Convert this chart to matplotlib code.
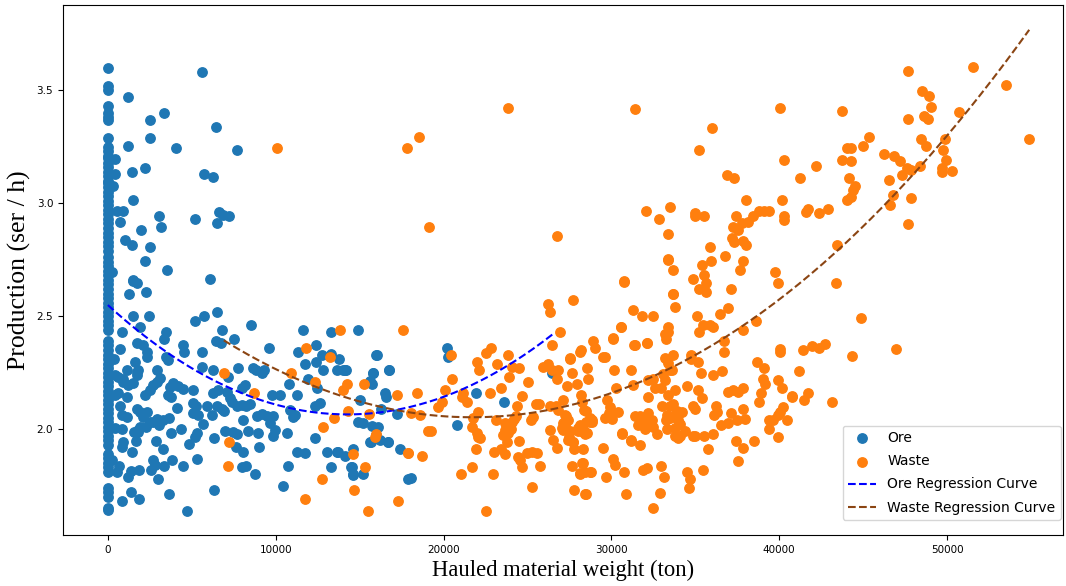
import numpy as np
import matplotlib.pyplot as plt

# Production vs hauled material weight (ore / waste) with quadratic regression curves

# ore trips hauled with zero waste weight (x = 0)
ore_zero_y = [3.60, 3.52, 3.50, 3.43, 3.40, 3.38, 3.37, 3.29, 3.25, 3.23, 3.21, 3.20, 3.18,
              3.16, 3.14, 3.12, 3.10, 3.09, 3.07, 3.05, 3.03, 3.01, 2.99, 2.97, 2.95, 2.93,
              2.91, 2.89, 2.87, 2.85, 2.83, 2.81, 2.79, 2.76, 2.74, 2.72, 2.70, 2.68, 2.66,
              2.64, 2.62, 2.60, 2.58, 2.56, 2.54, 2.52, 2.50, 2.48, 2.46, 2.44, 2.39, 2.37,
              2.35, 2.33, 2.31, 2.29, 2.27, 2.25, 2.23, 2.21, 2.19, 2.17, 2.15, 2.13, 2.11,
              2.09, 2.07, 2.05, 2.03, 2.01, 1.99, 1.97, 1.95, 1.93, 1.89, 1.87, 1.85, 1.83,
              1.81, 1.74, 1.72, 1.70, 1.65, 1.64]

ore_pts = [
    (1210, 3.47), (5620, 3.58), (3360, 3.40), (2500, 3.37), (6440, 3.335), (2500, 3.29),
    (1170, 3.255), (4050, 3.245), (7710, 3.235), (420, 3.195), (1410, 3.14), (2200, 3.155),
    (420, 3.127), (320, 3.077), (5720, 3.127), (6260, 3.114), (1470, 3.013), (520, 2.965),
    (910, 2.965), (720, 2.916), (3060, 2.944), (3140, 2.895), (1970, 2.883), (5200, 2.932),
    (6600, 2.96), (6870, 2.947), (7230, 2.944), (6500, 2.913), (1050, 2.836), (1410, 2.814),
    (2540, 2.807), (2200, 2.745), (3520, 2.704), (220, 2.696), (1500, 2.66), (6080, 2.665),
    (1470, 2.656), (1750, 2.647), (1250, 2.60), (2300, 2.607), (1510, 2.50), (2460, 2.50),
    (5220, 2.478), (5720, 2.50), (6530, 2.519), (8520, 2.46), (6830, 2.438), (7510, 2.40),
    (6470, 2.39), (6730, 2.38), (820, 2.43), (1910, 2.453), (3460, 2.43), (3340, 2.40),
    (1710, 2.38), (2100, 2.37), (720, 2.353), (2340, 2.342), (2340, 2.32), (4490, 2.372),
    (4530, 2.342), (5580, 2.342), (3460, 2.32), (3600, 2.305), (340, 2.31), (1610, 2.298),
    (1110, 2.261), (1810, 2.261), (2900, 2.261), (5580, 2.273), (6240, 2.261), (7170, 2.229),
    (7730, 2.271), (8620, 2.27), (8850, 2.263), (9160, 2.25), (9300, 2.26), (9610, 2.36),
    (11640, 2.438), (13290, 2.43), (14920, 2.438), (12400, 2.37), (11300, 2.34), (12730, 2.327),
    (13290, 2.332), (13780, 2.31), (16000, 2.327), (11740, 2.29), (12400, 2.298), (12830, 2.261),
    (13680, 2.261), (14120, 2.261), (15800, 2.25), (16750, 2.261), (11940, 2.221), (12440, 2.18),
    (15600, 2.207), (16500, 2.158), (16600, 2.143), (7970, 2.18), (8180, 2.195), (7070, 2.165),
    (7270, 2.136), (7370, 2.12), (6280, 2.158), (6570, 2.173), (6810, 2.09), (6910, 2.08),
    (7670, 2.10), (7970, 2.105), (8260, 2.10), (8460, 2.11), (9790, 2.15), (10250, 2.15),
    (11240, 2.15), (12340, 2.10), (12630, 2.114), (15020, 2.128), (10800, 2.198), (10850, 2.084),
    (11140, 2.062), (11040, 2.054), (14920, 2.03), (15220, 2.025), (15710, 2.015), (16110, 2.01),
    (15600, 1.944), (16200, 1.951), (16700, 1.944), (17400, 1.91), (12340, 1.962), (10650, 1.981),
    (11240, 1.90), (11740, 1.892), (13030, 1.90), (13680, 1.90), (14120, 1.88), (14520, 1.833),
    (14620, 1.796), (15220, 1.80), (13270, 1.83), (10710, 1.836), (10410, 1.748), (17900, 1.78),
    (6970, 1.99), (7470, 1.988), (7670, 1.98), (7630, 1.919), (8070, 1.897), (8000, 1.83),
    (8260, 1.838), (8760, 1.80), (8320, 1.99), (8960, 1.981), (9000, 1.919), (9850, 1.97),
    (9950, 1.996), (8900, 2.06), (9170, 2.065), (9470, 2.06), (9850, 2.058), (9650, 2.025),
    (8040, 2.04), (6300, 1.959), (6300, 1.73), (4690, 1.639), (3640, 1.711), (1850, 1.689),
    (1370, 1.72), (850, 1.68), (5320, 1.867), (4450, 1.838), (3830, 1.863), (3360, 1.836),
    (3000, 1.779), (2660, 1.863), (2800, 1.841), (2560, 1.82), (1850, 1.82), (1370, 1.816),
    (1210, 1.79), (670, 1.836), (520, 1.81), (220, 1.863), (1410, 1.897), (820, 1.919),
    (910, 1.944), (1670, 1.948), (1810, 1.985), (2840, 1.948), (3260, 1.91), (4850, 1.932),
    (5220, 1.966), (5340, 1.981), (4350, 1.999), (3740, 1.981), (5640, 2.021), (5090, 2.07),
    (5380, 2.062), (5880, 2.10), (5090, 2.114), (5280, 2.10), (6180, 2.062), (6480, 2.10),
    (4090, 2.095), (3650, 2.047), (3300, 2.04), (2900, 2.044), (2500, 2.032), (2340, 2.077),
    (1710, 2.09), (1910, 2.077), (2100, 2.054), (720, 2.10), (820, 2.062), (1110, 2.054),
    (1110, 2.143), (420, 2.003), (820, 1.999), (1570, 1.988), (1810, 1.996), (1910, 2.01),
    (2260, 2.01), (2660, 2.03), (3060, 2.02), (2200, 2.15), (2500, 2.173), (2700, 2.195),
    (2900, 2.209), (3100, 2.224), (910, 2.209), (1210, 2.195), (1510, 2.202), (1710, 2.253),
    (1750, 2.239), (420, 2.24), (600, 2.23), (900, 2.22), (600, 2.16), (420, 2.15),
    (3690, 2.187), (3890, 2.202), (4190, 2.19), (4490, 2.176), (3590, 2.15), (3790, 2.143),
    (5090, 2.173), (20180, 2.36), (20280, 2.32), (26480, 2.246), (21910, 2.158), (23600, 2.12),
    (16050, 2.327), (15810, 2.249), (15610, 2.214), (15710, 2.198), (16770, 2.261), (13990, 2.261),
    (14180, 2.261), (16270, 2.09), (17240, 2.066), (20780, 2.018), (16000, 1.973), (16700, 1.941),
    (15650, 1.941), (13730, 1.90), (14580, 1.91), (14460, 1.83), (14580, 1.80), (18090, 1.782),
]

waste_pts = [
    (10090, 3.245), (17840, 3.242), (18550, 3.293), (19150, 2.895), (23860, 3.423), (26740, 2.855),
    (13830, 2.438), (17600, 2.438), (11800, 2.36), (13230, 2.32), (6910, 2.246), (10900, 2.25),
    (12340, 2.209), (14220, 2.199), (14020, 2.173), (15260, 2.198), (17200, 2.15), (8720, 2.158),
    (15570, 2.066), (14280, 2.081), (16000, 1.98), (15900, 1.966), (17860, 1.892), (12830, 2.01),
    (13490, 2.047), (14620, 1.889), (15320, 1.83), (12730, 1.779), (14680, 1.73), (11740, 1.689),
    (15510, 1.639), (17300, 1.68), (7230, 1.941), (7170, 1.838),
    (20440, 2.327), (26200, 2.552), (26340, 2.519), (27730, 2.571), (26940, 2.428), (26440, 2.372),
    (25940, 2.273), (26240, 2.29), (26440, 2.261), (26840, 2.261), (26740, 2.22), (21970, 2.298),
    (22130, 2.261), (22530, 2.338), (22810, 2.357), (23160, 2.29), (23860, 2.327), (24060, 2.276),
    (23920, 2.232), (24510, 2.269), (25050, 2.209), (24690, 2.147), (23400, 2.18), (22770, 2.158),
    (21100, 2.143), (21370, 2.12), (21170, 2.158), (20520, 2.221), (20080, 2.173), (19880, 2.121),
    (19680, 2.099), (18440, 2.158), (18090, 2.07), (18590, 2.062), (19090, 1.99), (19250, 1.99),
    (17900, 1.892), (18690, 1.88), (22530, 1.639), (21040, 1.80), (21700, 1.83), (22970, 1.80),
    (21930, 1.91), (23020, 1.897), (23400, 1.912), (23660, 1.889), (22030, 1.963), (22170, 1.959),
    (21970, 1.981), (21670, 2.01), (21770, 2.047), (22030, 2.077), (23120, 2.04), (23660, 2.025),
    (23660, 1.996), (23860, 1.981), (23560, 1.973), (23760, 1.944), (24000, 2.00), (24100, 2.03),
    (24200, 2.045), (24300, 2.06), (24390, 2.10), (24510, 1.947), (24450, 1.877), (24550, 1.863),
    (24650, 1.83), (24950, 1.895), (25250, 1.90), (25550, 1.895), (25250, 1.745), (25750, 1.838),
    (25200, 2.04), (25340, 2.054), (25540, 2.11), (25680, 2.11), (26340, 1.996), (26540, 1.951),
    (26740, 1.915), (26340, 2.10), (26700, 2.10), (26840, 2.084),
    (27100, 2.13), (27300, 2.06), (27400, 2.04), (27250, 2.02), (27100, 1.996), (27550, 1.99),
    (27450, 1.966), (27700, 1.944), (27800, 1.91), (27380, 2.19), (27630, 2.249), (27530, 2.31),
    (27930, 2.198), (28200, 2.35), (28200, 2.15), (28250, 2.12), (28000, 1.99), (28350, 1.99),
    (28450, 1.98), (27630, 1.838), (28130, 1.804), (28330, 1.848), (28720, 1.811), (27790, 1.73),
    (28490, 1.711), (28500, 2.08), (28500, 2.03), (28700, 2.03), (28850, 2.04), (28530, 2.27),
    (28590, 2.22), (28920, 2.39), (29020, 2.36), (29520, 2.32), (29520, 1.917), (30070, 1.867),
    (30210, 1.841), (29660, 1.786), (30110, 2.401), (30170, 2.261), (30270, 2.18), (30550, 2.453),
    (30750, 2.652), (30630, 1.981), (30770, 1.811), (30870, 1.711), (31170, 2.261), (31300, 2.195),
    (31350, 2.372), (31300, 2.527), (31170, 1.948), (31700, 1.929), (31800, 2.50), (32460, 2.50),
    (32100, 2.38), (31400, 2.06), (31700, 2.06), (31900, 2.03), (32000, 2.00), (32300, 2.02),
    (32400, 2.04), (32500, 2.01), (32700, 1.98), (31900, 1.82), (32100, 1.826), (32960, 1.838),
    (33150, 1.79), (32900, 1.718), (32500, 1.649), (33390, 2.748), (33650, 2.704), (33650, 2.60),
    (33790, 2.541), (33200, 2.42), (33400, 2.45), (32200, 2.07), (32460, 2.22), (32960, 2.18),
    (33500, 2.26), (33300, 2.00), (33500, 2.05), (33700, 2.11), (33900, 2.08), (34000, 2.04),
    (33800, 1.97), (33950, 1.96),
    (28400, 2.084), (28720, 2.047), (28820, 2.032), (28130, 2.018), (28030, 2.003), (28320, 1.988),
    (28530, 1.981), (27240, 2.062), (27130, 2.025), (27040, 2.003), (27730, 1.944), (27430, 1.951),
    (28290, 1.91), (28230, 1.848), (28130, 1.80), (28430, 1.811), (28760, 1.811), (28430, 1.711),
    (31410, 3.415), (40050, 3.422), (35970, 3.334), (43760, 3.406), (47660, 3.584), (51570, 3.603),
    (53500, 3.522), (54900, 3.286), (48530, 3.496), (48930, 3.473), (49030, 3.424), (48650, 3.385),
    (48850, 3.372), (47690, 3.372), (50710, 3.404), (49880, 3.286), (48430, 3.286), (48730, 3.254),
    (49740, 3.235), (49920, 3.193), (49720, 3.154), (49720, 3.139), (50300, 3.144), (48390, 3.164),
    (47850, 3.146), (47600, 3.156), (47300, 3.124), (46860, 3.208), (47200, 3.188), (46260, 3.216),
    (46540, 3.104), (46800, 3.035), (46600, 2.994), (47850, 3.025), (47690, 2.906), (45370, 3.294),
    (45000, 3.254), (44030, 3.242), (44280, 3.242), (43760, 3.193), (44260, 3.186), (44180, 3.113),
    (44520, 3.075), (44420, 3.06), (44280, 3.028), (44060, 3.013), (43420, 2.814), (43380, 2.647),
    (44870, 2.49), (46960, 2.353), (42190, 3.164), (41240, 3.112), (40300, 3.193), (40180, 3.013),
    (40290, 2.944), (40290, 2.925), (39750, 2.696), (39950, 2.647), (42920, 2.976), (42370, 2.957),
    (41730, 2.976), (41570, 2.962), (36900, 3.124), (37300, 3.112), (38000, 3.013), (37400, 2.944),
    (37800, 2.91), (38120, 2.915), (38450, 2.944), (38800, 2.965), (39100, 2.965), (39400, 2.965),
    (37220, 2.895), (37520, 2.883), (37200, 2.844), (37320, 2.826), (37860, 2.833), (38000, 2.814),
    (37820, 2.745), (37660, 2.704), (36800, 2.765), (37100, 2.618), (36930, 2.538), (36470, 2.508),
    (35940, 2.745), (35880, 2.807), (35420, 2.726), (35520, 2.684), (35620, 2.647), (35240, 2.618),
    (35620, 2.607), (34880, 2.664), (34980, 2.958), (34980, 2.942), (35540, 2.944), (35220, 3.235),
    (33510, 2.982), (32860, 2.932), (32040, 2.965), (33350, 2.863), (33350, 2.752), (33650, 2.597),
    (30770, 2.655), (30570, 2.45), (30070, 2.40), (33390, 2.428), (33250, 2.40), (31410, 2.372),
    (32140, 2.38), (28130, 2.339), (27530, 2.315), (33690, 2.33), (33200, 2.315), (36710, 2.39),
    (36710, 2.339), (37820, 2.44), (38600, 2.48), (40050, 2.354), (40050, 2.339), (41440, 2.35),
    (41980, 2.369), (42390, 2.36), (42730, 2.377), (44360, 2.323),
    (35080, 2.50), (35440, 2.46), (35880, 2.46), (36070, 2.453), (35240, 2.428), (33090, 2.243),
    (33200, 2.217), (33390, 2.293), (33590, 2.261), (34740, 2.327), (34740, 2.308), (35180, 2.298),
    (35340, 2.246), (36070, 2.239), (36610, 2.258), (38660, 2.298), (39100, 2.269), (38820, 2.118),
    (39160, 2.199), (39050, 2.221), (38920, 2.158), (41180, 2.258), (41730, 2.158), (41480, 2.128),
    (40740, 2.147), (40780, 2.14), (39950, 2.217), (40150, 2.18), (40050, 2.077), (40210, 2.096),
    (39950, 2.062), (40450, 2.04), (39410, 2.04), (39650, 2.04), (39390, 1.999), (39950, 1.966),
    (43120, 2.121), (38520, 1.948), (37820, 1.917), (37430, 1.947), (37560, 1.858), (36960, 2.165),
    (37260, 2.173), (37560, 2.165), (37860, 2.18), (37860, 2.09), (37110, 2.07), (37470, 2.04),
    (37960, 2.043), (36960, 2.028), (36530, 2.018), (36210, 2.10), (36270, 2.077), (36110, 2.062),
    (36070, 1.98), (35520, 1.97), (35770, 1.912), (34880, 1.97), (34980, 1.97), (34390, 1.99),
    (34090, 1.97), (34090, 2.021), (33790, 2.003), (33990, 2.062), (34190, 2.077), (33790, 2.173),
    (34480, 2.19), (34880, 2.102), (34980, 2.087), (35180, 2.173), (35380, 2.139), (34480, 1.81),
    (34680, 1.779), (34620, 1.738), (35480, 1.82), (33390, 2.15), (32990, 2.10), (33490, 2.10),
    (33290, 2.062), (33250, 2.04), (33790, 2.062), (33890, 2.062), (32200, 2.217), (32200, 2.143),
    (32600, 2.18), (31800, 2.047), (31600, 2.018), (31150, 1.951), (29720, 2.128), (29920, 2.099),
    (29880, 2.07), (29620, 2.047), (30410, 2.077), (30020, 2.043), (29620, 2.32), (30650, 1.98),
]

# quadratic regression coefficients (ton -> ser/h)
ore_fit = [2.374e-9, -6.78e-5, 2.549]
waste_fit = [1.556e-9, -6.753e-5, 2.785]

ore_x = np.array([0] * len(ore_zero_y) + [p[0] for p in ore_pts], dtype=float)
ore_y = np.array(ore_zero_y + [p[1] for p in ore_pts])
waste_x = np.array([p[0] for p in waste_pts], dtype=float)
waste_y = np.array([p[1] for p in waste_pts])

fig = plt.figure(figsize=(10.66, 5.86), dpi=100)
ax = fig.add_axes([0.059, 0.087, 0.938, 0.904])

ax.scatter(ore_x, ore_y, s=46, color='#1f77b4', label='Ore')
ax.scatter(waste_x, waste_y, s=46, color='#ff7f0e', label='Waste')

xo = np.linspace(ore_x.min(), ore_x.max(), 200)
ax.plot(xo, np.polyval(ore_fit, xo), '--', color='blue', linewidth=1.5,
        label='Ore Regression Curve')
xw = np.linspace(waste_x.min(), waste_x.max(), 200)
ax.plot(xw, np.polyval(waste_fit, xw), '--', color='#8B4513', linewidth=1.5,
        label='Waste Regression Curve')

ax.set_xlim(-2680, 56900)
ax.set_ylim(1.531, 3.876)
ax.set_xticks([0, 10000, 20000, 30000, 40000, 50000])
ax.set_yticks([2.0, 2.5, 3.0, 3.5])
ax.tick_params(labelsize=7.5)

ax.set_xlabel('Hauled material weight (ton)', family='Liberation Serif', fontsize=16.3)
ax.set_ylabel('Production (ser / h)', family='Liberation Serif', fontsize=18.5)
ax.legend(loc='lower right', fontsize=10, labelspacing=0.66,
          bbox_to_anchor=(0.998, 0.028), borderaxespad=0)

plt.savefig('out.png', dpi=100)
